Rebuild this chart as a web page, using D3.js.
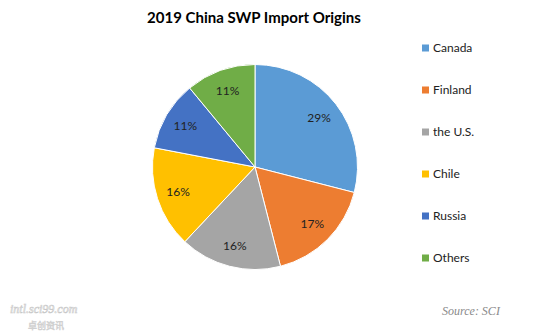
<!DOCTYPE html>
<html><head><meta charset="utf-8">
<script src="https://cdn.jsdelivr.net/npm/d3@7"></script>
<style>html,body{margin:0;padding:0;background:#fff;}svg{display:block;}</style>
</head><body>
<script>
const categories = ["Canada", "Finland", "the U.S.", "Chile", "Russia", "Others"];
const values = [29, 17, 16, 16, 11, 11];
const colors = ["#5B9BD5", "#ED7D31", "#A5A5A5", "#FFC000", "#4472C4", "#70AD47"];
const title = "2019 China SWP Import Origins";
const source = "Source: SCI";

const W = 545, H = 331;
const svg = d3.select("body").append("svg").attr("width", W).attr("height", H);

svg.append("text").attr("x", 254).attr("y", 23).attr("text-anchor", "middle")
  .attr("font-family", "Lato, 'Open Sans', sans-serif").attr("font-weight", "bold")
  .attr("font-size", 15).attr("fill", "#000").text(title);

const cx = 255, cy = 167, r = 102.5;
const data = categories.map((c, i) => ({name: c, value: values[i], color: colors[i]}));
const pie = d3.pie().value(d => d.value).sort(null);
const arc = d3.arc().innerRadius(0).outerRadius(r);
const labelArc = d3.arc().innerRadius(r * 0.79).outerRadius(r * 0.79);
const total = d3.sum(values);
const g = svg.append("g").attr("transform", `translate(${cx},${cy})`);
const arcs = pie(data);
g.selectAll("path").data(arcs).join("path")
  .attr("d", arc).attr("fill", d => d.data.color)
  .attr("stroke", "#fff").attr("stroke-width", 1);
g.selectAll("text").data(arcs).join("text")
  .attr("transform", d => `translate(${labelArc.centroid(d)})`)
  .attr("text-anchor", "middle").attr("dy", "0.35em")
  .attr("font-family", "Lato, 'Open Sans', sans-serif").attr("font-size", 12)
  .attr("fill", "#222")
  .text(d => Math.round(d.data.value / total * 100) + "%");

const legendY = d3.scalePoint().domain(categories).range([48, 258]);
const lg = svg.append("g");
const items = lg.selectAll("g").data(data).join("g")
  .attr("transform", d => `translate(422,${legendY(d.name)})`);
items.append("rect").attr("x", 0).attr("y", -3.5).attr("width", 7).attr("height", 7)
  .attr("fill", d => d.color);
items.append("text").attr("x", 11).attr("dy", "0.35em")
  .attr("font-family", "Lato, 'Open Sans', sans-serif").attr("font-size", 12)
  .attr("fill", "#222").text(d => d.name);

svg.append("text").attr("x", 442).attr("y", 315)
  .attr("font-family", "'Liberation Serif', serif").attr("font-style", "italic")
  .attr("font-size", 12).attr("fill", "#8a8a8a").text(source);

// watermark
svg.append("text").attr("x", 10).attr("y", 313)
  .attr("font-family", "'Liberation Serif', serif").attr("font-style", "italic")
  .attr("font-size", 12).attr("fill", "none").attr("stroke", "#c8c8c8").attr("stroke-width", 0.6)
  .text("intl.sci99.com");
svg.append("text").attr("x", 28).attr("y", 329)
  .attr("font-family", "'Noto Sans CJK SC', sans-serif")
  .attr("font-size", 9).attr("fill", "none").attr("stroke", "#d0d0d0").attr("stroke-width", 0.6)
  .text("卓创资讯");
</script>
</body></html>
